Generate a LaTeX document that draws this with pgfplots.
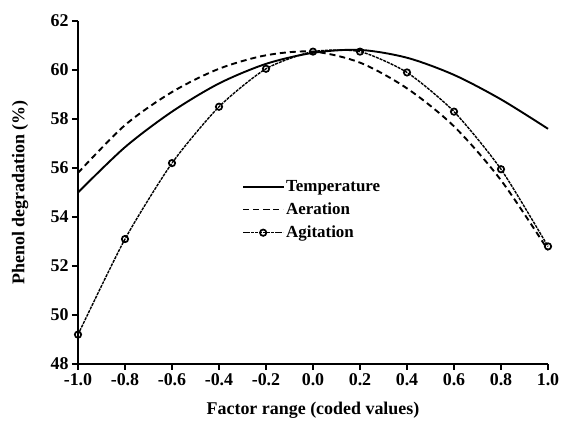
\documentclass[border=0pt]{standalone}
\usepackage{fontspec}
\setmainfont{Liberation Serif}
\usepackage{pgfplots}
\pgfplotsset{compat=1.18}
\begin{document}
\begin{tikzpicture}
\useasboundingbox (0,0) rectangle (568bp,428bp);
\begin{axis}[
  at={(78bp,64bp)}, anchor=south west,
  scale only axis, width=470bp, height=343bp,
  xmin=-1, xmax=1, ymin=48, ymax=62,
  clip=false,
  axis lines=left,
  axis line style={-, line width=1.8bp},
  xtick={-1,-0.8,-0.6,-0.4,-0.2,0,0.2,0.4,0.6,0.8,1},
  xticklabels={-1.0,-0.8,-0.6,-0.4,-0.2,0.0,0.2,0.4,0.6,0.8,1.0},
  ytick={48,50,52,54,56,58,60,62},
  yticklabels={48,50,52,54,56,58,60,62},
  tick align=outside,
  major tick length=6bp,
  tick style={line width=1.8bp, black},
  tick label style={font=\fontsize{18}{20}\selectfont\bfseries},
  xlabel={Factor range (coded values)},
  ylabel={Phenol degradation (\%)},
  label style={font=\fontsize{18}{20}\selectfont\bfseries},
  xlabel style={at={(axis description cs:0.5,-0.134)}, anchor=center},
  ylabel style={at={(axis description cs:-0.123,0.5)}, anchor=center},
  legend style={draw=none, fill=none, at={(axis description cs:0.349,0.542)}, anchor=north west,
    font=\fontsize{17}{20}\selectfont\bfseries, row sep=6bp, inner sep=0pt},
  legend cell align=left,
  legend image code/.code={\draw[mark repeat=2,mark phase=2,#1] plot coordinates {(0bp,0bp) (20bp,0bp) (40bp,0bp)};},
]
\addplot[black, line width=1.9bp, smooth] coordinates {
(-1,55.0) (-0.8,56.85) (-0.6,58.3) (-0.4,59.45) (-0.2,60.25) (0,60.7) (0.2,60.82) (0.4,60.5) (0.6,59.8) (0.8,58.8) (1,57.6)};
\addlegendentry{Temperature}
\addplot[black, line width=1.9bp, dash pattern=on 6bp off 4bp, smooth] coordinates {
(-1,55.8) (-0.8,57.75) (-0.6,59.1) (-0.4,60.05) (-0.2,60.6) (0,60.75) (0.2,60.3) (0.4,59.25) (0.6,57.7) (0.8,55.5) (1,52.65)};
\addlegendentry{Aeration}
\addplot[black, line width=1.4bp, dash pattern=on 3bp off 1bp, smooth, tension=0.4,
  mark=o, mark size=3.2bp, mark options={solid, line width=1.7bp}] coordinates {
(-1,49.2) (-0.8,53.1) (-0.6,56.2) (-0.4,58.5) (-0.2,60.05) (0,60.75) (0.2,60.75) (0.4,59.9) (0.6,58.3) (0.8,55.95) (1,52.8)};
\addlegendentry{Agitation}
\end{axis}
\end{tikzpicture}
\end{document}
